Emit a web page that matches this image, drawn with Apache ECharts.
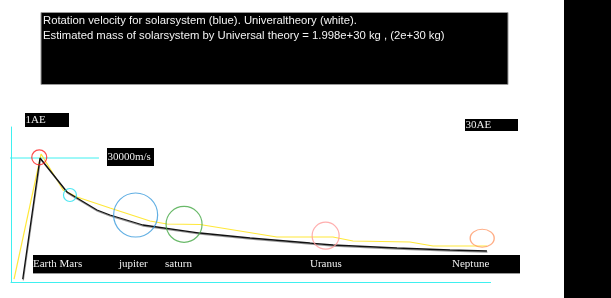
<!DOCTYPE html>
<html>
<head>
<meta charset="utf-8">
<script src="https://cdn.jsdelivr.net/npm/echarts@6/dist/echarts.min.js"></script>
<style>
html,body{margin:0;padding:0;background:#fff;}
#main{width:611px;height:298px;}
</style>
</head>
<body>
<div id="main"></div>
<script>
// ---- data (distance in AU, velocity in m/s) ----
const titleLines = [
  'Rotation velocity for solarsystem (blue). Univeraltheory (white).',
  'Estimated mass of solarsystem by Universal theory = 1.998e+30 kg , (2e+30 kg)'
];
const blackAU = [-0.13, 1.0, 2.77, 3.42, 4.73, 5.58, 7.74, 11.47, 14.75, 18.67, 20.18, 24.37, 27.84, 30.26];
const blackV  = [700, 30000, 21770, 20320, 17420, 16210, 13790, 11850, 10650, 9430, 8950, 8230, 7740, 7500];
const yellowAU = [-0.70, 1.07, 2.51, 3.42, 5.58, 8.20, 9.31, 11.47, 16.51, 20.18, 21.49, 25.22, 26.73, 30.26];
const yellowV  = [700, 30970, 22260, 20560, 17900, 14760, 14030, 13910, 10890, 10890, 9920, 9680, 8710, 8710];
const planetNames = ['Earth', 'Mars', 'Jupiter', 'Saturn', 'Uranus', 'Neptune'];
const planetAU = [0.95, 2.96, 7.26, 10.43, 19.70, 29.95];
const planetV  = [30170, 21050, 16210, 13960, 11200, 10570];
const refV = 30000;
const refAU = [-1.1, 4.86];
const bottomLabels = ['Earth Mars', 'jupiter', 'saturn', 'Uranus', 'Neptune'];
const boxLabels = ['1AE', '30AE', '30000m/s'];

// ---- styles / layout ----
const circleStyles = [
  {color: '#ff2020', size: 15},
  {color: '#22e0ee', size: 13},
  {color: '#3a9bdc', size: 44},
  {color: '#44a844', size: 36},
  {color: '#ff9a9a', size: 27},
  {color: '#ff9966', size: [24, 18]}
];
const bottomLabelX = [33, 119, 165, 310, 452];
const boxRects = [
  {x: 25, y: 113, w: 44, h: 14},
  {x: 465, y: 119, w: 53, h: 12},
  {x: 107, y: 148, w: 47, h: 18}
];
const cyan = '#3ff0f0';
const serif = '"Liberation Serif", "DejaVu Serif", serif';
const sans = '"Liberation Sans", Arial, sans-serif';

const chart = echarts.init(document.getElementById('main'), null, {renderer: 'canvas'});

const graphics = [];
// title box
graphics.push({type: 'rect', shape: {x: 41, y: 12.5, width: 467, height: 72}, style: {fill: '#000', stroke: '#999', lineWidth: 1}, z: 1});
titleLines.forEach((t, i) => {
  graphics.push({type: 'text', x: 43, y: 21 + i * 15, style: {text: t, fill: '#f2f2f2', font: '11.3px ' + sans, textVerticalAlign: 'middle'}, z: 2});
});
// right black bar
graphics.push({type: 'rect', shape: {x: 564, y: 0, width: 47, height: 298}, style: {fill: '#000'}, z: 1});
// bottom planet label bar
graphics.push({type: 'rect', shape: {x: 33, y: 255, width: 487, height: 18}, style: {fill: '#000'}, z: 1});
graphics.push({type: 'line', shape: {x1: 33, y1: 273.5, x2: 520, y2: 273.5}, style: {stroke: '#999', lineWidth: 1}, z: 1});
bottomLabels.forEach((t, i) => {
  graphics.push({type: 'text', x: bottomLabelX[i], y: 264, style: {text: t, fill: '#eee', font: '11px ' + serif, textVerticalAlign: 'middle'}, z: 2});
});
// small boxes
boxLabels.forEach((t, i) => {
  const r = boxRects[i];
  graphics.push({type: 'rect', shape: {x: r.x, y: r.y, width: r.w, height: r.h}, style: {fill: '#000'}, z: 1});
  graphics.push({type: 'text', x: r.x + 0.5, y: r.y + r.h / 2, style: {text: t, fill: '#eee', font: '11px ' + serif, textVerticalAlign: 'middle'}, z: 2});
});

const option = {
  backgroundColor: '#fff',
  animation: false,
  grid: {left: 11, right: 120.4, top: 127, bottom: 16, containLabel: false},
  xAxis: {
    type: 'value', min: -0.9, max: 30.5,
    axisLine: {show: true, onZero: false, lineStyle: {color: cyan, width: 1}},
    axisTick: {show: false}, axisLabel: {show: false}, splitLine: {show: false}
  },
  yAxis: {
    type: 'value', min: 0, max: 37500,
    axisLine: {show: true, onZero: false, lineStyle: {color: cyan, width: 1}},
    axisTick: {show: false}, axisLabel: {show: false}, splitLine: {show: false}
  },
  graphic: graphics,
  series: [
    {
      type: 'line', clip: false, symbol: 'none', silent: true,
      data: refAU.map(a => [a, refV]),
      lineStyle: {color: cyan, width: 1}, z: 3
    },
    {
      type: 'line', symbol: 'none', clip: false,
      data: yellowAU.map((a, i) => [a, yellowV[i]]),
      lineStyle: {color: '#ffe83a', width: 1.2}, z: 3
    },
    {
      type: 'line', symbol: 'none', clip: false,
      data: blackAU.map((a, i) => [a, blackV[i]]),
      lineStyle: {color: '#111', width: 1.3, shadowColor: '#999', shadowBlur: 0, shadowOffsetX: 0.5, shadowOffsetY: 1.2}, z: 4
    },
    {
      type: 'scatter', symbol: 'circle', clip: false,
      data: planetAU.map((a, i) => ({
        name: planetNames[i],
        value: [a, planetV[i]],
        symbolSize: circleStyles[i].size,
        itemStyle: {color: 'rgba(0,0,0,0)', borderColor: circleStyles[i].color, borderWidth: 1.2}
      })),
      z: 5
    }
  ]
};
chart.setOption(option);
</script>
</body>
</html>
